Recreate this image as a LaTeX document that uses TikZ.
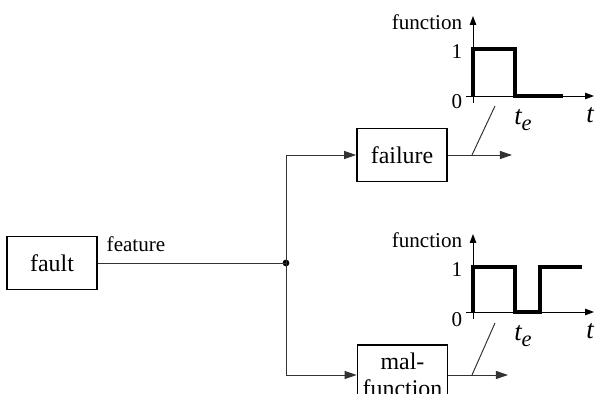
\documentclass[tikz,border=0pt]{standalone}
\usepackage{fontspec}
\setmainfont{Liberation Serif}
\usetikzlibrary{arrows.meta, positioning, calc}
\tikzset{
    blk/.style={rectangle, draw=black, line width=1.2pt, fill=white,
                minimum width=2.25cm, minimum height=1.33cm, align=center,
                inner sep=0pt, font=\fontsize{17}{19}\selectfont},
    lbl/.style={inner sep=0pt, font=\fontsize{15}{17}\selectfont},
    tlbl/.style={inner sep=0pt, font=\fontsize{19}{21}\selectfont\itshape},
    wire/.style={line width=0.7pt, draw=black!80},
    arr/.style={-{Triangle[length=0.3cm, width=0.2cm]}, line width=0.7pt, draw=black!80},
    ax/.style={-{Triangle[length=0.22cm, width=0.16cm]}, line width=0.7pt},
    sig/.style={line width=2.3pt, line join=miter}
}
\newcommand{\tesub}{t\raisebox{-0.45ex}{\fontsize{16}{18}\selectfont e}}

\begin{document}
\begin{tikzpicture}[x=0.025cm, y=-0.025cm]
\useasboundingbox (0,0) rectangle (595,394);

% ── Blocks ────────────────────────────────────────────────────────────
\node[blk] at (52,263)  (fault) {fault};
\node[blk] at (402,155) (fail)  {failure};
\node[blk, minimum height=1.5cm] at (402.5,375) (mal) {mal-\\function};

% ── Branch point ──────────────────────────────────────────────────────
\coordinate (jn) at (286,263);
\fill (jn) circle (3.4);
\node[lbl] at (136,244) (feat) {feature};

% ── Connectors ────────────────────────────────────────────────────────
\draw[wire] (fault.east) -- (jn);
\draw[arr] (jn) |- (fail.west);
\draw[arr] (jn) |- (mal.west);

\coordinate (fout) at (512,155);
\coordinate (mout) at (508,375);
\draw[arr] (fail.east) -- (fout);
\draw[arr] (mal.east) -- (mout);

% ── Pointer strokes ───────────────────────────────────────────────────
\coordinate (fs) at (472,155);
\coordinate (ms) at (472,375);
\draw[wire] (fs) -- (495,106);
\draw[wire] (ms) -- (495,323);

% ── Graph: failure ────────────────────────────────────────────────────
\coordinate (o1) at (473,96);
\draw[ax] (473,103) -- (473,16);
\draw[ax] (466,96) -- (594,96);
\draw[sig] (o1) -- (473,49) -- (515,49) -- (515,96) -- (563,96);
\node[lbl] at (427,22)  (f1) {function};
\node[lbl] at (457,52)  (one1) {1};
\node[lbl] at (457,102) (zero1) {0};
\node[tlbl] at (523,120) (te1) {\tesub};
\node[tlbl] at (590,115) (t1) {t};

% ── Graph: malfunction ────────────────────────────────────────────────
\coordinate (o2) at (473,312);
\draw[ax] (473,319) -- (473,234);
\draw[ax] (466,312) -- (594,312);
\draw[sig] (o2) -- (473,267) -- (515,267) -- (515,312) -- (540,312)
           -- (540,267) -- (582,267);
\node[lbl] at (427,240) (f2) {function};
\node[lbl] at (457,270) (one2) {1};
\node[lbl] at (457,320) (zero2) {0};
\node[tlbl] at (523,336) (te2) {\tesub};
\node[tlbl] at (590,331) (t2) {t};
\end{tikzpicture}
\end{document}
